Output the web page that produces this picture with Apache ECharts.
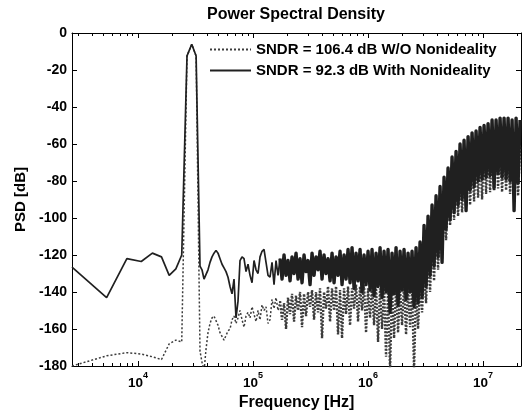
<!DOCTYPE html>
<html><head><meta charset="utf-8">
<script src="https://cdn.jsdelivr.net/npm/echarts@6/dist/echarts.min.js"></script>
<style>html,body{margin:0;padding:0;background:#fff}#c{width:522px;height:412px}</style>
</head><body><div id="c"></div>
<script>
// ---- data ----
const freqHz = [
  2667, 5334, 8001, 10668, 13335, 16002, 18669, 21336, 24003, 26670, 29337, 32004,
  34600, 36010, 37490, 39020, 40610, 42270, 44000, 45800, 47670, 49620,
  51650, 53760, 55960, 58240, 60620, 63100, 65680, 68360, 71160, 74060,
  77090, 80240, 83520, 86930, 90480, 94180, 98030, 102040, 106210, 110550,
  115070, 119770, 124670, 129760, 135060, 140580, 146330, 152310, 158530, 165010,
  171750, 178770, 186080, 193680, 201600, 209840, 218410, 227340, 236630, 246300,
  256360, 266840, 277740, 289090, 300910, 313200, 326000, 339320, 353190, 367620,
  382640, 398280, 414560, 431500, 449130, 467480, 486590, 506470, 527170, 548710,
  571130, 594470, 618770, 644050, 670370, 697770, 726280, 755960, 786860, 819010,
  852480, 887320, 923580, 961320, 1000600, 1041500, 1084000, 1128300, 1174400, 1222400,
  1272400, 1324400, 1378500, 1434800, 1493400, 1554500, 1618000, 1684100, 1752900, 1824600,
  1899100, 1976700, 2057500, 2141600, 2229100, 2320200, 2415000, 2513700, 2616400, 2723300,
  2834600, 2950500, 3071000, 3196500, 3327200, 3463100, 3604600, 3751900, 3905300, 4064900,
  4231000, 4403900, 4583800, 4771100, 4966100, 5169000, 5380300, 5600100, 5829000, 6067200,
  6315100, 6573200, 6841800, 7121400, 7412400, 7715300, 8030600, 8358800, 8700400, 9055900,
  9426000, 9811200, 10212000, 10629000, 11064000, 11516000, 11987000, 12476000, 12986000, 13517000,
  14069000, 14644000, 15243000, 15866000, 16514000, 17189000, 17891000, 18622000, 19383000, 20176000,
  21000000
];
// SNDR = 92.3 dB With Nonideality (solid)
const psdWithNonideality = [
  -126.5, -143, -122, -123.5, -119, -121, -131, -127.5, -120, -12.4, -6.1, -12.4,
  -126, -128, -133, -134, -128, -124, -121, -119, -117.5, -119,
  -122, -125, -127, -129, -132, -137, -141, -133, -154, -145,
  -123, -121, -122, -129, -125, -131, -135, -123, -128, -130,
  -121, -118, -117, -124, -131, -132, -124, -136, -123, -131,
  -122, -133, -120, -131, -123, -134, -121, -130, -119, -133,
  -122, -135, -120, -129, -123, -136, -119, -131, -121, -128,
  -118, -133, -120, -130, -122, -134, -119, -135, -121, -131,
  -118, -136, -120, -133, -117, -135, -116, -138, -119, -134,
  -117, -140, -120, -136, -118, -139, -117, -142, -119, -137,
  -116, -143, -118, -140, -117, -151, -119, -141, -116, -147,
  -118, -139, -117, -144, -119, -140, -118, -148, -116, -146,
  -113, -143, -104, -137, -99, -131, -93, -126, -88, -121,
  -83, -124, -78, -106, -73, -101, -67, -97, -64, -93,
  -60, -90, -58, -96, -56, -85, -54, -83, -53, -80,
  -51, -79, -50, -78, -49, -77, -47, -84, -47, -76,
  -46, -78, -46, -79, -46, -80, -47, -96, -46, -81,
  -47
];
// SNDR = 106.4 dB W/O Nonideality (dotted)
const psdWithoutNonideality = [
  -180, -174.5, -172.8, -173.5, -175, -176.5, -168, -166, -167, -12.4, -6.1, -12.4,
  -172, -178, -183, -171, -162, -157, -154, -153, -154, -158,
  -162, -164, -166, -165, -161, -160, -155, -153, -157, -154,
  -150, -155, -159, -153, -151, -154, -148, -152, -156, -150,
  -155, -147, -150, -148, -157, -155, -144, -149, -143, -150,
  -145, -155, -146, -160, -143, -152, -141, -156, -142, -150,
  -140, -159, -141, -153, -140, -148, -139, -155, -140, -151,
  -138, -165, -140, -149, -137, -156, -138, -150, -137, -163,
  -139, -165, -138, -152, -137, -158, -138, -149, -136, -156,
  -137, -150, -136, -162, -138, -154, -137, -158, -136, -167,
  -138, -160, -137, -175, -139, -182, -138, -165, -137, -162,
  -138, -158, -136, -163, -137, -159, -138, -182, -137, -160,
  -135, -151, -128, -146, -120, -140, -112, -134, -104, -128,
  -97, -122, -92, -112, -87, -104, -82, -101, -79, -99,
  -75, -97, -72, -94, -70, -93, -68, -91, -66, -89,
  -64, -90, -63, -87, -62, -86, -61, -85, -60, -84,
  -60, -86, -59, -85, -61, -87, -60, -86, -62, -88,
  -61
];
const legendNames = ['SNDR = 106.4 dB W/O Nonideality', 'SNDR = 92.3 dB With Nonideality'];
const xMajorTicks = [1e4, 1e5, 1e6, 1e7];
const xMinorTicks = [3e3, 4e3, 5e3, 6e3, 7e3, 8e3, 9e3,
  2e4, 3e4, 4e4, 5e4, 6e4, 7e4, 8e4, 9e4,
  2e5, 3e5, 4e5, 5e5, 6e5, 7e5, 8e5, 9e5,
  2e6, 3e6, 4e6, 5e6, 6e6, 7e6, 8e6, 9e6, 2e7];
const xMin = 2667, xMax = 21390000;
const yMin = -180, yMax = 0, yStep = 20;
// index where the spectrum becomes a dense band (drawn with a heavier stroke)
const denseFrom = 52;

// ---- chart ----
const FONT = 'Liberation Sans, Arial, Helvetica, sans-serif';
const ink = '#000';
const chart = echarts.init(document.getElementById('c'), null, {renderer: 'canvas', devicePixelRatio: 1});

function xAxisDef(pos, major, withLabels) {
  const def = {
    type: 'log', logBase: 10, min: xMin, max: xMax, gridIndex: 0, position: pos,
    splitLine: {show: false},
    axisLine: {show: major, onZero: false, lineStyle: {color: ink, width: 1}},
    axisTick: {show: true, inside: true, length: major ? 5 : 3,
      customValues: major ? xMajorTicks : xMinorTicks, lineStyle: {color: ink, width: 1}},
    axisLabel: {show: false}
  };
  if (withLabels) {
    def.axisLabel = {
      show: true, customValues: xMajorTicks, margin: 5,
      formatter: v => '{b|10}{s|' + Math.round(Math.log10(v)) + '}',
      rich: {
        b: {fontSize: 13.5, fontWeight: 'bold', fontFamily: FONT, color: ink, lineHeight: 24},
        s: {fontSize: 9, fontWeight: 'bold', fontFamily: FONT, color: ink, lineHeight: 9, verticalAlign: 'top'}
      }
    };
    def.name = 'Frequency [Hz]';
    def.nameLocation = 'middle';
    def.nameGap = 24;
    def.nameTextStyle = {fontSize: 16, fontWeight: 'bold', fontFamily: FONT, color: ink};
  }
  return def;
}
function yAxisDef(pos, withLabels) {
  const def = {
    type: 'value', min: yMin, max: yMax, interval: yStep, position: pos, gridIndex: 0,
    splitLine: {show: false},
    axisLine: {show: true, onZero: false, lineStyle: {color: ink, width: 1}},
    axisTick: {show: true, inside: true, length: 5, lineStyle: {color: ink, width: 1}},
    axisLabel: {show: withLabels, margin: 5, fontSize: 14, fontWeight: 'bold', fontFamily: FONT, color: ink}
  };
  if (withLabels) {
    def.name = 'PSD [dB]';
    def.nameLocation = 'middle';
    def.nameGap = 44;
    def.nameRotate = 90;
    def.nameTextStyle = {fontSize: 15, fontWeight: 'bold', fontFamily: FONT, color: ink};
  }
  return def;
}

function pairs(values, from, to) {
  const out = [];
  for (let i = from; i < to; i++) out.push([freqHz[i], values[i]]);
  return out;
}
const N = freqHz.length;
const dotColor = '#3c3c3c', solidColor = '#202020';

const option = {
  animation: false,
  backgroundColor: '#fff',
  title: {
    text: 'Power Spectral Density', left: 296, top: 7, textAlign: 'center', padding: 0,
    textStyle: {fontSize: 16, fontWeight: 'bold', fontFamily: FONT, color: ink}
  },
  legend: {
    orient: 'vertical', left: 209, top: 42, padding: 0, itemWidth: 41, itemHeight: 14, itemGap: 6,
    selectedMode: false, data: legendNames,
    itemStyle: {opacity: 0},
    textStyle: {fontSize: 15, fontWeight: 'bold', fontFamily: FONT, color: ink}
  },
  grid: {left: 72, right: 1, top: 33, bottom: 46, containLabel: false, outerBoundsMode: 'none'},
  xAxis: [
    xAxisDef('bottom', true, true),
    xAxisDef('bottom', false, false),
    xAxisDef('top', true, false),
    xAxisDef('top', false, false)
  ],
  yAxis: [yAxisDef('left', true), yAxisDef('right', false)],
  series: [
    {
      name: legendNames[0], type: 'line', xAxisIndex: 0, yAxisIndex: 0,
      data: pairs(psdWithoutNonideality, 0, denseFrom + 1),
      symbol: 'none', clip: true, z: 2,
      lineStyle: {color: dotColor, width: 1.5, type: [2, 2]},
      itemStyle: {color: dotColor}
    },
    {
      name: legendNames[0], type: 'line', xAxisIndex: 0, yAxisIndex: 0,
      data: pairs(psdWithoutNonideality, denseFrom, N),
      symbol: 'none', clip: true, z: 2,
      lineStyle: {color: dotColor, width: 2.4, type: [2, 1.5]},
      itemStyle: {color: dotColor}
    },
    {
      name: legendNames[1], type: 'line', xAxisIndex: 0, yAxisIndex: 0,
      data: pairs(psdWithNonideality, 0, denseFrom + 1),
      symbol: 'none', clip: true, z: 3,
      lineStyle: {color: solidColor, width: 1.7, type: 'solid'},
      itemStyle: {color: solidColor}
    },
    {
      name: legendNames[1], type: 'line', xAxisIndex: 0, yAxisIndex: 0,
      data: pairs(psdWithNonideality, denseFrom, N),
      symbol: 'none', clip: true, z: 3,
      lineStyle: {color: solidColor, width: 3.4, type: 'solid', join: 'round'},
      itemStyle: {color: solidColor}
    }
  ]
};
chart.setOption(option);
</script>
</body></html>
